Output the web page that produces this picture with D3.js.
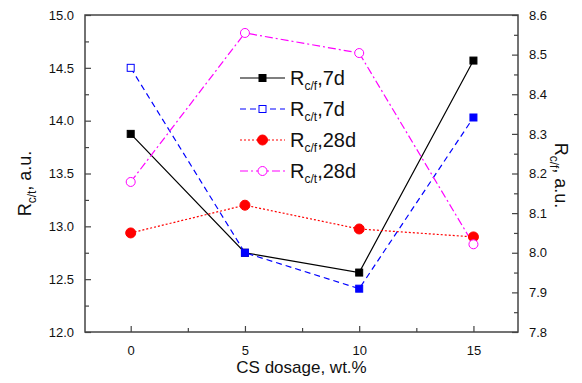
<!DOCTYPE html>
<html>
<head>
<meta charset="utf-8">
<script src="https://cdn.jsdelivr.net/npm/d3@7"></script>
<style>
  body { margin: 0; background: #fff; }
  text { font-family: "Liberation Sans", Arial, sans-serif; fill: #111; }
</style>
</head>
<body>
<div id="chart"></div>
<script>
// Data
var dosage = [0, 5, 10, 15];
var rcf7 = [8.30, 8.00, 7.95, 8.485];     // right axis
var rct7 = [14.50, 12.75, 12.41, 14.03];  // left axis
var rcf28 = [8.05, 8.12, 8.06, 8.04];     // right axis
var rct28 = [13.42, 14.83, 14.64, 12.83]; // left axis
var xTicks = [0, 5, 10, 15];
var leftTicks = [12.0, 12.5, 13.0, 13.5, 14.0, 14.5, 15.0];
var rightTicks = [7.8, 7.9, 8.0, 8.1, 8.2, 8.3, 8.4, 8.5, 8.6];

var margin = {top: 15, right: 64, bottom: 51, left: 85},
    width = 582 - margin.left - margin.right,
    height = 383 - margin.top - margin.bottom;

var x = d3.scaleLinear().domain([-2, 16.95]).range([0, width]);
var yL = d3.scaleLinear().domain([12, 15]).range([height, 0]);
var yR = d3.scaleLinear().domain([7.8, 8.6]).range([height, 0]);

var svg = d3.select("#chart").append("svg")
    .attr("width", 582)
    .attr("height", 383)
  .append("g")
    .attr("transform", "translate(" + margin.left + "," + margin.top + ")");

var axisColor = "#444";

// frame
svg.append("rect")
    .attr("width", width)
    .attr("height", height)
    .attr("fill", "none")
    .attr("stroke", axisColor)
    .attr("stroke-width", 1.5);

function styleAxis(g) {
    g.select(".domain").remove();
    g.selectAll(".tick line").attr("stroke", axisColor).attr("stroke-width", 1.2);
    g.selectAll(".tick text").style("font-size", "13px").attr("fill", "#111");
}

// x axis (ticks inward)
svg.append("g")
    .attr("transform", "translate(0," + height + ")")
    .call(d3.axisBottom(x).tickValues(xTicks).tickSize(-6).tickPadding(14).tickFormat(d3.format("d")))
    .call(styleAxis);
svg.append("g")
    .attr("transform", "translate(0," + height + ")")
    .call(d3.axisBottom(x).tickValues([2.5, 7.5, 12.5]).tickSize(-4).tickFormat(""))
    .call(styleAxis);

// left axis
svg.append("g")
    .call(d3.axisLeft(yL).tickValues(leftTicks).tickSize(-6).tickPadding(11).tickFormat(d3.format(".1f")))
    .call(styleAxis);
svg.append("g")
    .call(d3.axisLeft(yL).tickValues(d3.range(12.25, 15, 0.5)).tickSize(-4).tickFormat(""))
    .call(styleAxis);

// right axis
svg.append("g")
    .attr("transform", "translate(" + width + ",0)")
    .call(d3.axisRight(yR).tickValues(rightTicks).tickSize(-6).tickPadding(11).tickFormat(d3.format(".1f")))
    .call(styleAxis);
svg.append("g")
    .attr("transform", "translate(" + width + ",0)")
    .call(d3.axisRight(yR).tickValues(d3.range(7.85, 8.6, 0.1)).tickSize(-4).tickFormat(""))
    .call(styleAxis);

// series definitions
var series = [
    {name: "c/f", age: "7d", values: rcf7, y: yR, color: "#000", dash: null, shape: "square", hollow: false},
    {name: "c/t", age: "7d", values: rct7, y: yL, color: "#0000ff", dash: "6,4", shape: "square", hollow: true},
    {name: "c/f", age: "28d", values: rcf28, y: yR, color: "#ff0000", dash: "2,2", shape: "circle", hollow: false},
    {name: "c/t", age: "28d", values: rct28, y: yL, color: "#ff00ff", dash: "8,3,2,3", shape: "circle", hollow: true}
];

function drawMarker(g, s, cx, cy, hollow) {
    if (s.shape === "square") {
        g.append("rect")
            .attr("x", cx - 3.5).attr("y", cy - 3.5)
            .attr("width", 7).attr("height", 7)
            .attr("fill", hollow ? "#fff" : s.color)
            .attr("stroke", s.color).attr("stroke-width", 1);
    } else {
        g.append("circle")
            .attr("cx", cx).attr("cy", cy).attr("r", hollow ? 4.5 : 5)
            .attr("fill", hollow ? "#fff" : s.color)
            .attr("stroke", s.color).attr("stroke-width", 1);
    }
}

series.forEach(function(s) {
    var line = d3.line()
        .x(function(d, i) { return x(dosage[i]); })
        .y(function(d) { return s.y(d); });
    svg.append("path")
        .datum(s.values)
        .attr("d", line)
        .attr("fill", "none")
        .attr("stroke", s.color)
        .attr("stroke-width", 1.2)
        .attr("stroke-dasharray", s.dash);
});

series.forEach(function(s) {
    var g = svg.append("g");
    s.values.forEach(function(v, i) {
        // in the picture only the first blue square is hollow
        var hollow = s.hollow && (s.shape === "circle" || i === 0);
        drawMarker(g, s, x(dosage[i]), s.y(v), hollow);
    });
});

// legend
var legend = svg.append("g").attr("transform", "translate(" + (240 - margin.left) + "," + (78 - margin.top) + ")");
series.forEach(function(s, i) {
    var row = legend.append("g").attr("transform", "translate(0," + (i * 31) + ")");
    row.append("line")
        .attr("x1", 0).attr("x2", 45)
        .attr("stroke", s.color).attr("stroke-width", 1.2)
        .attr("stroke-dasharray", s.dash);
    drawMarker(row, s, 22.5, 0, s.hollow);
    var t = row.append("text")
        .attr("x", 50).attr("y", 7)
        .style("font-size", "20px");
    t.append("tspan").text("R");
    t.append("tspan").attr("dy", 5).style("font-size", "12px").text(s.name);
    t.append("tspan").attr("dy", -5).text("," + s.age);
});

// axis titles
svg.append("text")
    .attr("x", width / 2)
    .attr("y", height + 41)
    .style("text-anchor", "middle")
    .style("font-size", "17px")
    .text("CS dosage, wt.%");

var lt = svg.append("text")
    .attr("transform", "translate(" + (31 - margin.left) + "," + (height / 2 + 10) + ") rotate(-90)")
    .style("text-anchor", "middle")
    .style("font-size", "18px");
lt.append("tspan").text("R");
lt.append("tspan").attr("dy", 5).style("font-size", "12px").text("c/t");
lt.append("tspan").attr("dy", -5).text(", a.u.");

var rt = svg.append("text")
    .attr("transform", "translate(" + (555 - margin.left) + "," + (height / 2 + 2) + ") rotate(90)")
    .style("text-anchor", "middle")
    .style("font-size", "18px");
rt.append("tspan").text("R");
rt.append("tspan").attr("dy", 5).style("font-size", "12px").text("c/f");
rt.append("tspan").attr("dy", -5).text(", a.u.");
</script>
</body>
</html>
